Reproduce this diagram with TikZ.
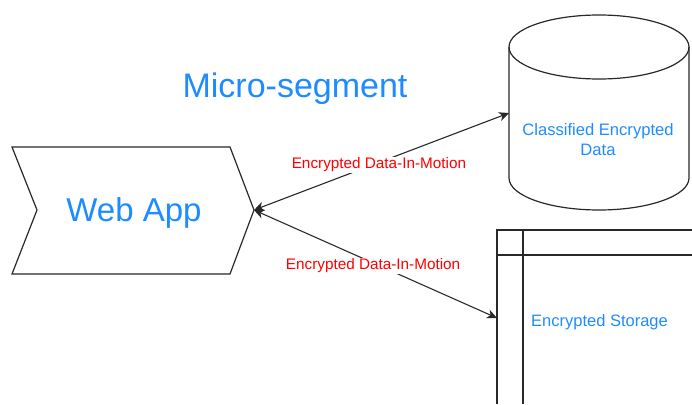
\documentclass[tikz,border=0pt]{standalone}
\usepackage{fontspec}
\setmainfont{Liberation Sans}
\usetikzlibrary{arrows.meta}
\definecolor{txtblue}{RGB}{30,140,255}
\definecolor{lbl}{RGB}{255,0,0}
\definecolor{edge}{RGB}{40,40,40}
\tikzset{
  shapeline/.style={draw=edge, line width=1.2pt, line join=miter},
  boxline/.style={draw=edge, line width=1.1pt},
  conn/.style={draw=edge, line width=1.1pt, {Stealth[length=10pt,width=9pt,inset=3pt]}-{Stealth[length=10pt,width=9pt,inset=3pt]}},
  bluetext/.style={text=txtblue, inner sep=0pt},
  lbltext/.style={text=lbl, fill=white, inner sep=1pt, font=\fontsize{15.3}{18}\selectfont},
}
\begin{document}
\begin{tikzpicture}[x=1pt,y=-1pt]
\useasboundingbox (0,0) rectangle (692,404);
% Web App chevron
\draw[shapeline] (12,147) -- (230,147) -- (254,210) -- (230,274) -- (12,274) -- (37,210) -- cycle;
\coordinate (webtip) at (254,210);
\node[bluetext, anchor=base, font=\fontsize{33}{40}\selectfont] (webapp) at (134,221) {Web App};
% title
\node[bluetext, anchor=base, font=\fontsize{34}{40}\selectfont] (title) at (295,97) {Micro-segment};
% cylinder
\draw[shapeline] (599,47) ellipse [x radius=90, y radius=32];
\draw[shapeline] (509,47) -- (509,178) arc [start angle=180, end angle=0, x radius=90, y radius=32] -- (689,47);
\coordinate (cylL) at (509,113);
\node[bluetext, align=center, font=\fontsize{16.6}{19.5}\selectfont] (cyltext) at (598,139.5) {Classified Encrypted\\Data};
% storage
\draw[boxline] (692,230) -- (497,230) -- (497,404);
\draw[boxline] (497,255) -- (692,255);
\draw[boxline] (523,230) -- (523,404);
\coordinate (stoL) at (497,318);
\node[bluetext, anchor=base west, font=\fontsize{16.5}{19}\selectfont] (stotext) at (531,326) {Encrypted Storage};
% connectors
\draw[conn] (webtip) -- (cylL) node[lbltext, pos=0.49, yshift=-2.5pt] (l1) {Encrypted Data-In-Motion};
\draw[conn] (webtip) -- (stoL) node[lbltext, pos=0.49, yshift=-3pt] (l2) {Encrypted Data-In-Motion};
\end{tikzpicture}
\end{document}
